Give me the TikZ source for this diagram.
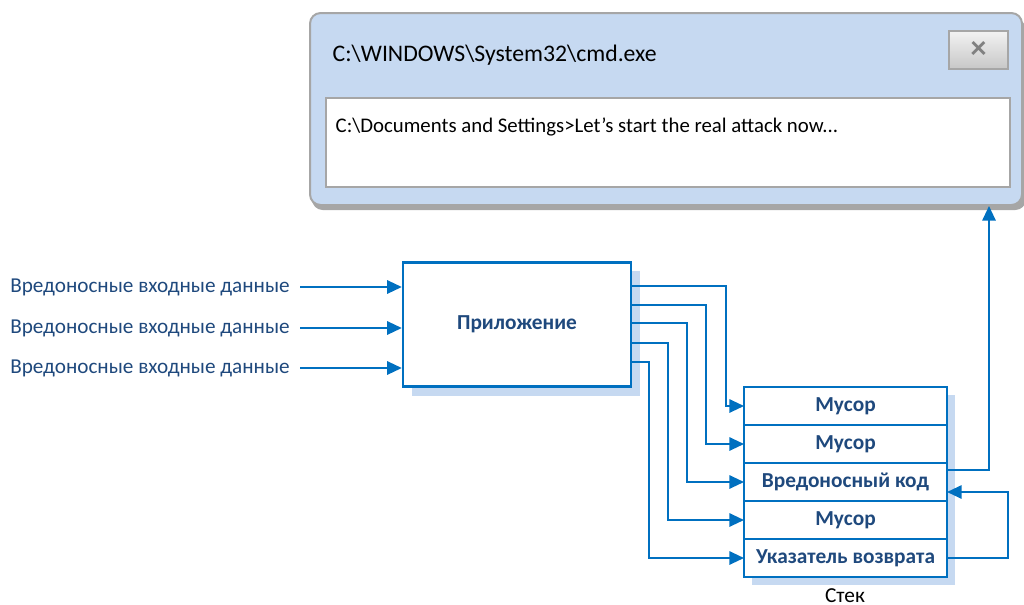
\documentclass[tikz,border=0pt]{standalone}
\usepackage{fontspec}
\setmainfont{Carlito}
\usetikzlibrary{arrows.meta,calc,positioning}
\definecolor{lblue}{HTML}{0070C0}
\definecolor{dblue}{HTML}{1F497D}
\definecolor{sblue}{HTML}{C6D9F1}
\definecolor{wline}{HTML}{A6A6A6}

\begin{document}
\begin{tikzpicture}[x=.75pt,y=-.75pt,>={Triangle[length=11pt,width=10pt]},
  link/.style={draw=lblue,line width=1.5pt},
  cell/.style={draw=lblue,line width=1.8pt,fill=white,outer sep=0pt,
    minimum width=152.25pt,minimum height=28.5pt,text=dblue,
    font=\bfseries\fontsize{16}{18}\selectfont}]
 \useasboundingbox (0,0) rectangle (1024,604);
 % console window
 \fill[black!35,rounded corners=8pt] (312,19) rectangle (1026,210);
 \node[draw=wline,line width=1.5pt,fill=sblue,rounded corners=8pt,
   minimum width=534pt,minimum height=144pt] (win) at (666,109) {};
 \node[anchor=west,font=\fontsize{17.8}{20}\selectfont] (title) at (328,55)
   {C:\textbackslash WINDOWS\textbackslash System32\textbackslash cmd.exe};
 \node[draw=wline,line width=1pt,top color=black!5,bottom color=black!22,
   minimum width=44.25pt,minimum height=28.5pt,text=black!50,
   font=\bfseries\fontsize{24}{24}\selectfont] (close) at (978.5,50) {×};
 \node[draw=wline,line width=1pt,fill=white,
   minimum width=513pt,minimum height=66.75pt] (console) at (668,142.5) {};
 \node[anchor=west,font=\fontsize{15.6}{18}\selectfont] (cmd) at (331,127)
   {C:\textbackslash Documents and Settings>Let’s start the real attack now...};
 % application
 \fill[sblue] (412,271) rectangle (640,396);
 \node[draw=lblue,line width=1.8pt,fill=white,minimum width=171pt,minimum height=93pt,
   text=dblue,font=\bfseries\fontsize{16}{18}\selectfont] (app) at (517,324.5) {Приложение};
 \foreach \y [count=\i] in {287,328,368} {
  \node[anchor=east,inner sep=0pt,text=dblue,font=\fontsize{15.9}{18}\selectfont]
    (in\i) at (290,\y) {Вредоносные входные данные};
  \draw[link,->] ([xshift=7.5pt]in\i.east) -- (app.west |- in\i.east);
 }
 % stack
 \fill[sblue] (752,395) rectangle (955,585);
 \node[cell] (r1) at (845.5,406) {Мусор};
 \node[cell,below=0pt of r1] (r2) {Мусор};
 \node[cell,below=0pt of r2] (r3) {Вредоносный код};
 \node[cell,below=0pt of r3] (r4) {Мусор};
 \node[cell,below=0pt of r4] (r5) {Указатель возврата};
 \node[anchor=base,inner sep=0pt,font=\fontsize{16}{18}\selectfont] (stack) at (845,602) {Стек};
 \foreach \y/\x [count=\i] in {286/726,304.5/706,323/687,343/668,361.5/649}
  \draw[link,->] (app.east |- 0,\y) -- (\x,\y) |- (r\i.west);
 \draw[link,->] ([yshift=9pt]r3.east) -| ($(win.south east)+(-34,0)$);
 \draw[link,->] (r5.east) -- +(61,0) |- ([yshift=-7.5pt]r3.east);
\end{tikzpicture}
\end{document}
